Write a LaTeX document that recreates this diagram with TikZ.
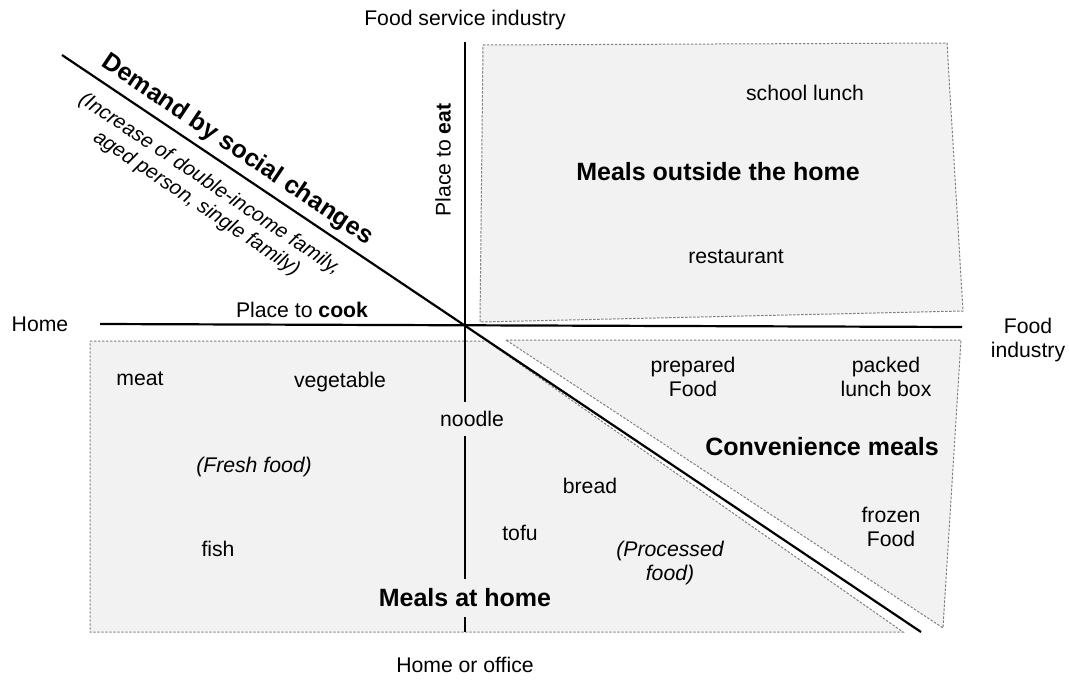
\documentclass[tikz,border=0pt]{standalone}
\usepackage{fontspec}
\setmainfont{Liberation Sans}
\usetikzlibrary{positioning}
\definecolor{boxgray}{HTML}{F2F2F2}
\definecolor{edgegray}{HTML}{7F7F7F}

\tikzset{
  area/.style={fill=boxgray, draw=edgegray, dash pattern=on 1.2pt off 0.8pt, line width=0.5pt},
  axis/.style={line width=1.1pt},
  item/.style={font=\fontsize{10.6}{12}\selectfont, align=center, inner sep=1pt},
  note/.style={item, font=\fontsize{10.6}{12}\selectfont\itshape},
  title/.style={font=\fontsize{12.5}{15}\selectfont\bfseries, align=center, inner sep=1pt},
}

\begin{document}
\begin{tikzpicture}[x=0.5pt,y=-0.5pt]
\useasboundingbox (0,0) rectangle (1069,680);

% the three areas
\draw[area] (483,45) -- (947,43) -- (963,311) -- (480,322) -- cycle;
\draw[area] (90,341) -- (487,341) -- (903,632) -- (90,632) -- cycle;
\draw[area] (506,340) -- (961,340) -- (943,628) -- cycle;

% axes
\coordinate (w) at (100,324);
\coordinate (e) at (962,327);
\coordinate (n) at (465,42);
\coordinate (s) at (465,632);
\coordinate (nw) at (62,55);
\coordinate (se) at (921,632);
\draw[axis] (w) -- (e);
\draw[axis] (n) -- (s);
\draw[axis] (nw) -- (se);

% axis labels
\node[item] (top) at (465,20) {Food service industry};
\node[item] (bottom) at (465,665) {Home or office};
\node[item] (home) at (40,324) {Home};
\node[item] (industry) at (1028,340) {Food\\industry};
\node[item, rotate=90] (eat) at (443,160) {Place to \textbf{eat}};
\node[item] (cook) at (302,310) {Place to \textbf{cook}};
\node[title, rotate=-33.9] (demand) at (237,150) {Demand by social changes};
\node[note, font=\fontsize{10.2}{11.8}\selectfont\itshape, rotate=-33.9] (increase) at (203,194) {(Increase of double-income family,\\aged person, single family)};

% meals outside the home
\node[item] (lunch) at (805,93) {school lunch};
\node[title] (outside) at (718,172) {Meals outside the home};
\node[item] (restaurant) at (736,257) {restaurant};

% meals at home
\node[item] (meat) at (140,379) {meat};
\node[item] (vegetable) at (340,382) {vegetable};
\node[item, fill=boxgray, inner ysep=4.5pt] (noodle) at (472,419) {noodle};
\node[note] (fresh) at (254,467) {(Fresh food)};
\node[item] (fish) at (218,549) {fish};
\node[item] (tofu) at (520,533) {tofu};
\node[item] (bread) at (590,486) {bread};
\node[note] (processed) at (670,563) {(Processed\\food)};
\node[title, fill=boxgray, inner ysep=5pt] (athome) at (465,598) {Meals at home};

% convenience meals
\node[item] (prepared) at (693,377) {prepared\\Food};
\node[item] (packed) at (886,377) {packed\\lunch box};
\node[title] (convenience) at (822,447) {Convenience meals};
\node[item] (frozen) at (891,527) {frozen\\Food};
\end{tikzpicture}
\end{document}
